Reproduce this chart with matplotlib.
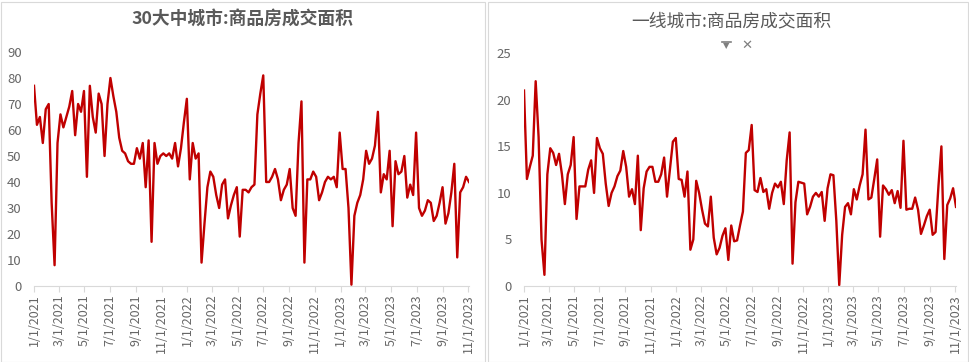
import numpy as np
import pandas as pd
import matplotlib
matplotlib.use("Agg")
import matplotlib.pyplot as plt
from matplotlib.patches import Rectangle
from matplotlib.lines import Line2D

plt.rcParams['font.family'] = ['Noto Sans CJK SC', 'DejaVu Sans']

# weekly data, 1/1/2021 ... 11/3/2023
dates = pd.date_range("2021-01-01", periods=149, freq="7D")

big30 = [
    77, 62, 65, 55, 68, 70, 32, 8, 55, 66,
    61, 65, 69, 75, 58, 70, 67, 75, 42, 77,
    65, 59, 74, 70, 50, 70, 80, 73, 67, 57,
    52, 51, 48, 47, 47, 53, 49, 55, 38, 56,
    17, 55, 47, 50, 51, 50, 51, 49, 55, 46,
    53, 63, 72, 41, 55, 49, 51, 9, 24, 38,
    44, 42, 35, 30, 39, 41, 26, 31, 35, 38,
    19, 37, 37, 36, 38, 39, 66, 74, 81, 40,
    40, 42, 45, 41, 33, 37, 39, 45, 30, 27,
    55, 71, 9, 41, 41, 44, 42, 33, 36, 40,
    42, 41, 42, 38, 59, 45, 45, 30, 0.5, 27,
    32, 35, 41, 52, 47, 49, 54, 67, 36, 43,
    41, 52, 23, 48, 43, 44, 50, 34, 39, 35,
    59, 30, 27, 29, 33, 32, 25, 27, 32, 38,
    24, 28, 36, 47, 11, 36, 38, 42, 40,
]

tier1 = [
    21, 11.5, 12.8, 14, 22, 16, 5, 1.2, 12, 14.8,
    14.3, 13, 14.2, 12, 8.8, 12, 13, 16, 7.2, 10.7,
    10.7, 10.7, 12.5, 13.5, 10, 15.9, 14.8, 14.2, 11, 8.6,
    10, 10.7, 11.8, 12.4, 14.5, 12.8, 9.6, 10.4, 8.8, 14,
    6, 10.5, 12.3, 12.8, 12.8, 11.2, 11.2, 12, 13.8, 9.6,
    12.5, 15.5, 15.9, 11.5, 11.4, 9.6, 12.3, 3.9, 5, 11.3,
    10, 8.2, 6.7, 6.4, 9.6, 5.2, 3.4, 4.1, 5.4, 6.2,
    2.8, 6.5, 4.8, 4.9, 6.5, 8, 14.3, 14.6, 17.3, 10.3,
    10.1, 11.6, 10.1, 10.4, 8.3, 10, 11, 10.6, 11.2, 8.8,
    13.5, 16.5, 2.4, 9, 11.2, 11.1, 11, 7.7, 8.5, 9.6,
    10, 9.6, 10.1, 7, 10.5, 12, 11.9, 7, 0.1, 5.5,
    8.5, 8.9, 7.7, 10.4, 9.3, 10.8, 12, 16.8, 9.3, 9.5,
    11.5, 13.6, 5.3, 10.8, 10.4, 9.8, 10.3, 8.9, 10.2, 8.4,
    15.6, 8.2, 8.3, 8.3, 9.5, 8.2, 5.6, 6.5, 7.5, 8.2,
    5.5, 5.8, 10.8, 15, 2.9, 8.7, 9.4, 10.5, 8.5,
]

tick_dates = pd.date_range("2021-01-01", "2023-11-01", freq="2MS")
tick_labels = [f"{d.month}/{d.day}/{d.year}" for d in tick_dates]

W, H = 969, 362
fig = plt.figure(figsize=(W / 100, H / 100), dpi=100)

line_color = "#C00000"
text_color = "#595959"
label_color = "#666666"


def setup(ax, values, ymax, ystep):
    ax.plot(dates, values, color=line_color, lw=1.7, solid_joinstyle="round")
    ax.set_ylim(0, ymax)
    ax.set_yticks(np.arange(0, ymax + 1, ystep))
    ax.set_xlim(dates[0], dates[-1])
    ax.set_xticks(tick_dates)
    ax.set_xticklabels(tick_labels, rotation=90)
    for s in ["top", "right", "left"]:
        ax.spines[s].set_visible(False)
    ax.spines["bottom"].set_color("#D9D9D9")
    ax.tick_params(axis="y", length=0, labelsize=9.5, colors=label_color, pad=9)
    ax.tick_params(axis="x", length=4, color="#D9D9D9", labelsize=9,
                   labelcolor=label_color, pad=2)


# left panel
ax1 = fig.add_axes([34 / W, 1 - 286 / H, 435 / W, (286 - 52) / H])
setup(ax1, big30, 90, 10)
fig.text(242 / W, 1 - 20 / H, "30大中城市:商品房成交面积", ha="center", va="center",
         fontsize=12.8, fontweight="bold", color=text_color)

# right panel
ax2 = fig.add_axes([524 / W, 1 - 286 / H, 432 / W, (286 - 53.3) / H])
setup(ax2, tier1, 25, 5)
fig.text(731 / W, 1 - 21 / H, "一线城市:商品房成交面积", ha="center", va="center",
         fontsize=12.8, color=text_color)

# filter / close icons under right title
fig.lines.append(Line2D([722 / W, 731 / W], [1 - 41.5 / H, 1 - 41.5 / H],
                        transform=fig.transFigure, color="#7F7F7F", lw=1.2))
fig.text(726.5 / W, 1 - 46 / H, "▼", ha="center", va="center", fontsize=6,
         color="#7F7F7F", family="DejaVu Sans")
fig.text(747 / W, 1 - 45 / H, "✕", ha="center", va="center", fontsize=9.5,
         color="#7F7F7F", family="DejaVu Sans", fontweight="bold")

# chart borders
fig.patches.append(Rectangle((0.5 / W, 0.5 / H), 485 / W, 360 / H, transform=fig.transFigure,
                             fill=False, edgecolor="#D9D9D9", lw=0.8))
fig.patches.append(Rectangle((487.5 / W, 0.5 / H), 480.5 / W, 360 / H, transform=fig.transFigure,
                             fill=False, edgecolor="#D9D9D9", lw=0.8))

fig.savefig("out.png", dpi=100)
